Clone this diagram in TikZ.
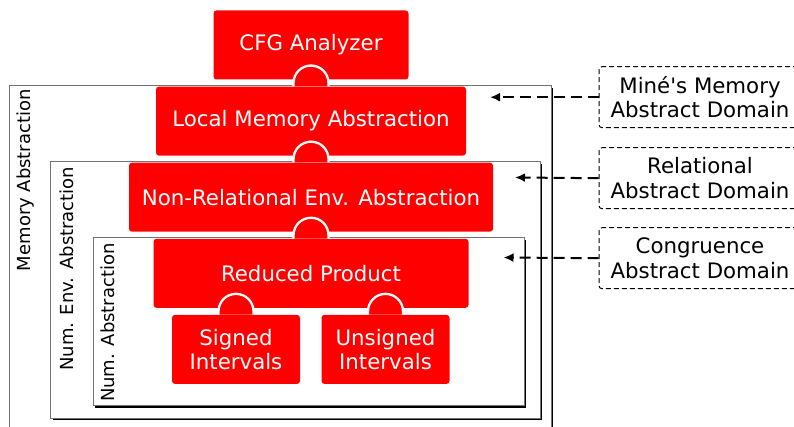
\documentclass[tikz,border=0pt]{standalone}
\usepackage{fontspec}
\setmainfont{DejaVu Sans}
\newfontfamily\plainsans{DejaVu Sans}
\usetikzlibrary{arrows.meta,positioning,calc}

\begin{document}
\begin{tikzpicture}[x=1pt,y=1pt,font=\fontsize{21.3}{24.5}\selectfont,
  block/.style={fill=red,text=white,rounded corners=3pt,minimum height=69,inner sep=0pt,align=center},
  framebox/.style={draw=black!55,line width=1pt,fill=white},
  framelabel/.style={rotate=90,anchor=north east,inner sep=0pt,font=\fontsize{18}{21}\selectfont},
  domainbox/.style={draw,line width=1pt,dash pattern=on 5pt off 3pt,rounded corners=3pt,
                 minimum width=202,minimum height=61,inner sep=0pt,align=center},
  feed/.style={-{Latex[length=10pt,width=9pt]},line width=2pt,dash pattern=on 11pt off 6pt}]
  \useasboundingbox (0,0) rectangle (794,-427);
  % nested frames with a flat black shadow
  \foreach \l/\t/\r/\b in {9/86/551.2/445,50.5/161.8/540.2/418,93/238/524/405.4}{
    \fill[black] (\l+2.2,-\t-2.2) rectangle (\r+2.2,-\b-2.2);
    \draw[framebox] (\l,-\t) rectangle (\r,-\b);}
  \node[framelabel] (memlabel) at (17,-89) {Memory Abstraction};
  \node[framelabel] (envlabel) at (59.5,-166.5) {Num. Env. Abstraction};
  \node[framelabel] (numlabel) at (100.5,-243) {Num. Abstraction};
  % analysis stack
  \node[block,minimum width=195] (cfg) at (311,-45) {CFG Analyzer};
  \node[block,minimum width=310,below=6.7 of cfg] (lma) {Local Memory Abstraction};
  \node[block,minimum width=364,below=6.7 of lma] (nrea) {Non-Relational Env. Abstraction};
  \node[block,minimum width=315,below=6.7 of nrea] (rp) {Reduced Product};
  \node[block,minimum width=128,below=6.7 of rp,xshift=-75] (signed) {Signed\\Intervals};
  \node[block,minimum width=128,below=6.7 of rp,xshift=74.5] (unsigned) {Unsigned\\Intervals};
  \foreach \u/\d in {cfg/lma,lma/nrea,nrea/rp,rp/signed,rp/unsigned}{
    \coordinate (k) at ($(\d.north)!0.5!(\d.north |- \u.south)$);
    \filldraw[fill=red,draw=white,line width=2.3pt]
      ([xshift=-17.5]\d.north) -- ([xshift=-17.5]k) arc[start angle=180,end angle=0,radius=17.5]
      -- ([xshift=17.5]\d.north);}
  % external domains
  \node[domainbox] (mine) at (700,-97.2) {Miné{\plainsans '}s Memory\\Abstract Domain};
  \node[domainbox,below=19 of mine] (relational) {Relational\\Abstract Domain};
  \node[domainbox,below=18 of relational] (congruence) {Congruence\\Abstract Domain};
  \coordinate (minetip) at (490,-97.2);
  \coordinate (reltip) at (515,-177.5);
  \coordinate (congtip) at (503.5,-257.5);
  \draw[feed] (mine.west) -- (minetip);
  \draw[feed] (relational.west) -- (reltip);
  \draw[feed] (congruence.west) -- (congtip);
\end{tikzpicture}
\end{document}
